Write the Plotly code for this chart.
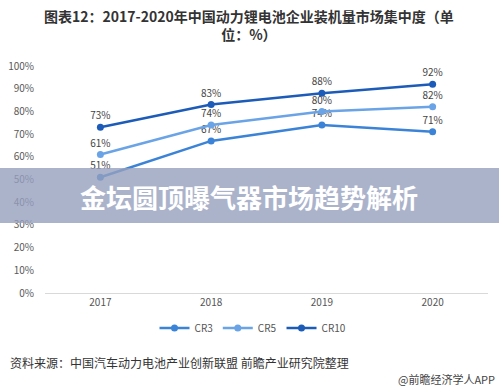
import plotly.graph_objects as go

years = ["2017", "2018", "2019", "2020"]
cr3 = [51, 67, 74, 71]
cr5 = [61, 74, 80, 82]
cr10 = [73, 83, 88, 92]
y_ticks = [0, 10, 20, 30, 40, 50, 60, 70, 80, 90, 100]
y_tick_labels = [f"{v}%" for v in y_ticks]

W, H = 499, 392
L, R, T, B = 45, 11, 66, 99
PW, PH = W - L - R, H - T - B


def px_x(px):
    return (px - L) / PW


def px_y(py):
    return (H - B - py) / PH


FONT = "Noto Sans CJK SC, Microsoft YaHei, sans-serif"

fig = go.Figure()
series = [("CR3", cr3, "#3b83d6"), ("CR5", cr5, "#6aa4e6"), ("CR10", cr10, "#1c5cb8")]
for name, vals, col in series:
    fig.add_trace(go.Scatter(
        x=years, y=vals, name=name, mode="lines+markers+text",
        line=dict(color=col, width=2.5),
        marker=dict(color=col, size=7),
        text=[f"{v}%" for v in vals], textposition="top center",
        textfont=dict(size=10, color="#444444", family=FONT),
        cliponaxis=False,
    ))

fig.update_layout(
    width=W, height=H,
    margin=dict(l=L, r=R, t=T, b=B, autoexpand=False),
    paper_bgcolor="white", plot_bgcolor="white",
    font=dict(family=FONT, color="#555555", size=10),
    xaxis=dict(type="category", range=[-0.5, 3.5], showgrid=False, showline=True,
               linecolor="#d9d9d9", linewidth=1, ticks="",
               tickfont=dict(size=10, color="#555555")),
    yaxis=dict(range=[0, 100], tickvals=y_ticks, ticktext=y_tick_labels,
               showgrid=False, zeroline=False, showline=False, ticks="",
               ticklabelstandoff=10,
               tickfont=dict(size=10, color="#595959")),
    legend=dict(orientation="h", x=px_x(253), xanchor="center", y=px_y(328),
                yanchor="middle", font=dict(size=10, color="#555555"),
                itemwidth=30, tracegroupgap=0, bgcolor="rgba(0,0,0,0)"),
    showlegend=True,
)

fig.add_shape(type="rect", xref="paper", yref="paper",
              x0=px_x(0), x1=px_x(W), y0=px_y(223), y1=px_y(168),
              fillcolor="rgba(150,160,190,0.8)", line=dict(width=0), layer="above")

ann = [
    dict(text="<b>图表12：2017-2020年中国动力锂电池企业装机量市场集中度（单<br>位：%）</b>",
         x=px_x(249), y=px_y(25), size=14, color="#333333", xanchor="center"),
    dict(text="<b>金坛圆顶曝气器市场趋势解析</b>", x=px_x(249), y=px_y(196), size=26,
         color="white", xanchor="center"),
    dict(text="资料来源：中国汽车动力电池产业创新联盟 前瞻产业研究院整理",
         x=px_x(8), y=px_y(362), size=12, color="#333333", xanchor="left"),
    dict(text="@前瞻经济学人APP", x=px_x(497), y=px_y(379), size=11,
         color="#444444", xanchor="right"),
]
for a in ann:
    fig.add_annotation(text=a["text"], xref="paper", yref="paper", x=a["x"], y=a["y"],
                       xanchor=a["xanchor"], yanchor="middle", showarrow=False,
                       font=dict(size=a["size"], color=a["color"], family=FONT))

fig.write_html("out.html", config={"displayModeBar": False},
               post_script="document.body.style.margin='0';")
